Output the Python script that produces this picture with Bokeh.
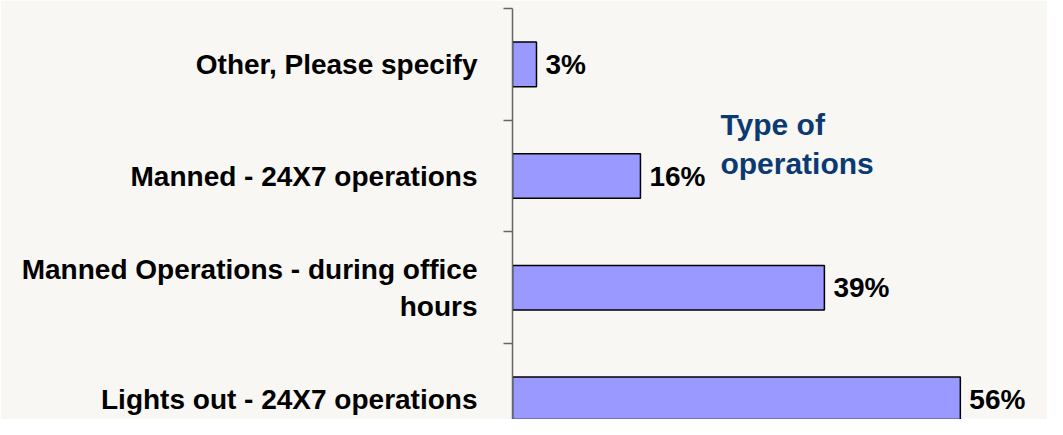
from bokeh.plotting import figure
from bokeh.models import FixedTicker, ColumnDataSource, Label
from bokeh.core.properties import value
from bokeh.embed import file_html
from bokeh.resources import INLINE

# data (bottom to top)
categories = ["Lights out - 24X7 operations",
              "Manned Operations - during office\nhours",
              "Manned - 24X7 operations",
              "Other, Please specify"]
percentages = [56, 39, 16, 3]
value_labels = ["56%", "39%", "16%", "3%"]
legend_title = "Type of\noperations"

positions = list(range(len(categories)))
BG = "#f8f7f4"
FONT = "Liberation Sans"

src = ColumnDataSource(dict(y=positions, v=percentages, lab=value_labels))

p = figure(width=1047, height=419, output_backend="svg", toolbar_location=None,
           x_range=(0, 66.9), y_range=(-0.18, 3.5),
           min_border_left=512, min_border_right=0, min_border_top=8, min_border_bottom=0)
p.background_fill_color = BG
p.border_fill_color = BG
p.outline_line_color = None
p.xaxis.visible = False
p.xgrid.visible = False
p.ygrid.visible = False

p.hbar(y="y", right="v", left=0, height=0.4, source=src,
       fill_color="#9999ff", line_color="#000000", line_width=1.5)

p.text(x="v", y="y", text="lab", source=src, x_offset=9,
       text_baseline="middle", text_align="left",
       text_font=value(FONT), text_font_style="bold", text_font_size="28px",
       text_color="#000000")

ax = p.yaxis[0]
ax.ticker = FixedTicker(ticks=positions, minor_ticks=[i + 0.5 for i in positions])
ax.major_label_overrides = {i: c for i, c in zip(positions, categories)}
ax.major_tick_line_color = None
ax.major_tick_out = 0
ax.major_tick_in = 0
ax.minor_tick_out = 9
ax.minor_tick_in = 0
ax.minor_tick_line_color = "#666666"
ax.minor_tick_line_width = 1.5
ax.axis_line_color = "#666666"
ax.axis_line_width = 1.5
ax.major_label_standoff = 26
ax.major_label_text_align = "center"
ax.major_label_text_font = FONT
ax.major_label_text_font_style = "bold"
ax.major_label_text_font_size = "28px"
ax.major_label_text_color = "#000000"

p.add_layout(Label(x=26, y=2.61, text=legend_title, text_baseline="top", text_align="left",
                   text_font=FONT, text_font_style="bold", text_font_size="30px",
                   text_color="#0b3a73"))

open("out.html", "w").write(file_html(p, INLINE))
